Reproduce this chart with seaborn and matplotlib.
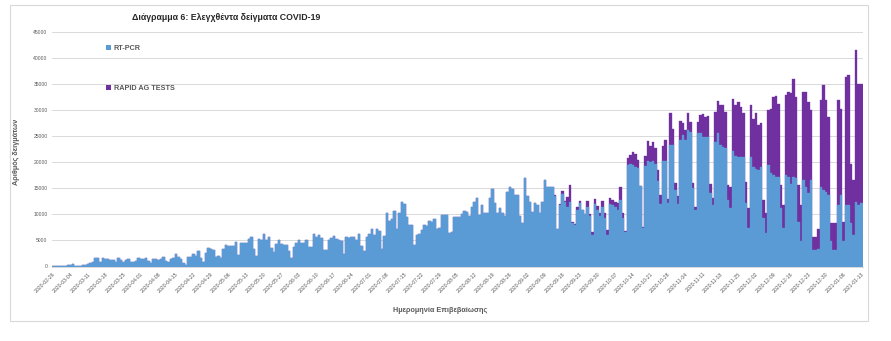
import numpy as np
import pandas as pd
import matplotlib
matplotlib.use("Agg")
import matplotlib.pyplot as plt
import seaborn as sns
from matplotlib.patches import Rectangle, Patch

# ---------------- data ----------------
start_date = "2020-02-26"
end_date = "2021-01-13"

rt_pcr = [
    # 2020-02-26 ..
    100, 120, 150, 80, 90, 150, 200,
    250, 450, 150, 120, 100, 200, 250,
    450, 640, 950, 1600, 1600, 770, 1600,
    1400, 1400, 1280, 1280, 830, 1600, 1280,
    770, 1280, 1400, 950, 770, 1150, 1600,
    1470, 1400, 1600, 1080, 640, 1400, 1400,
    1280, 1400, 1900, 1080, 830, 1470, 1600,
    2400, 1900, 1400, 640, 320, 1800, 1800,
    2350, 2100, 2950, 1600, 950, 2500, 3500,
    3300, 3200, 1800, 2000, 1700, 3400, 4150,
    4000, 4000, 4000, 4650, 2200, 4600, 4450,
    4600, 5200, 5600, 3300, 2000, 5200, 5100,
    6250, 5000, 5600, 3500, 2700, 4300, 5100,
    4300, 4150, 4150, 2900, 1700, 3700, 4450,
    5000, 4600, 4600, 5000, 3700, 3700, 6250,
    5750, 5950, 5500, 3200, 3200, 5100, 5550,
    5900, 5200, 5000, 4900, 2450, 5600, 5400,
    5600, 5600, 5100, 6250, 3900, 2900, 5750,
    6250, 7150, 6050, 7150, 6900, 3300, 5900,
    10300, 8800, 9050, 10700, 7150, 10200, 12450,
    11900, 9450, 8000, 8000, 4150, 6050, 6250,
    7000, 8000, 7800, 8750, 8600, 9050, 7150,
    7350, 9900, 9900, 9900, 6500, 6700, 9550,
    9450, 9450, 10100, 10700, 10500, 9700, 11500,
    12300, 13100, 9900, 11800, 10300, 10300, 13100,
    14800, 12100, 10300, 11150, 10300, 9700, 14350,
    15300, 14800, 13700, 13700, 9700, 8400, 16900,
    13500, 12450, 10500, 12250, 11800, 10200, 12450,
    16600, 15300, 15300, 15300, 13500, 7150, 11800,
    14000, 12450, 11500, 12450, 8300, 8000, 10850,
    12100, 10850, 10100, 11500, 9700, 6100, 12050,
    10900, 9700, 11500, 9400, 5950, 12050, 11850,
    11500, 10750, 12800, 9300, 6700, 19500, 19700,
    19500, 19100, 18900, 15400, 7400, 19300, 20200,
    20000, 20200, 19700, 16500, 12050, 20200, 20200,
    12150, 23400, 23400, 14700, 12050, 24200, 25300,
    24300, 26100, 25900, 15000, 10750, 25700, 25700,
    24900, 24900, 24900, 14150, 11800, 23900, 25650,
    23300, 23000, 22650, 12750, 11150, 22150, 21200,
    21050, 21050, 21050, 12100, 7350, 21050, 19000,
    18800, 18500, 19100, 9250, 6400, 19450, 18000,
    17550, 17200, 17200, 11150, 7350, 17550, 17200,
    15800, 17200, 16900, 8600, 4800, 16600, 15300,
    14050, 16600, 3200, 3200, 3300, 15300, 14700,
    14350, 13700, 4800, 3200, 3200, 11800, 13700,
    4800, 11800, 11800, 8400, 6050, 12450, 11800,
    12100,
]

rapid_ag = [0] * 200 + [
    200, 0, 150, 450, 200, 1900, 3200,
    150, 150, 640, 500, 0, 0, 1100,
    400, 550, 900, 640, 640, 1100, 960,
    1100, 1100, 960, 960, 1400, 2430, 960,
    130, 1300, 1700, 2400, 2400, 1500, 130,
    130, 1900, 3850, 3200, 3600, 3000, 2000,
    1700, 2900, 4150, 800, 6100, 2900, 1300,
    1400, 3650, 2200, 1900, 3450, 1900, 960,
    640, 2100, 3400, 4300, 3700, 4000, 1650,
    1300, 5800, 6050, 7600, 8050, 7050, 2850,
    4150, 10050, 9700, 10550, 9550, 8450, 4200,
    3800, 9850, 9400, 10700, 8600, 8450, 3500,
    3950, 10550, 12300, 15000, 15450, 14050, 4450,
    4450, 15300, 16300, 17500, 18850, 15650, 7000,
    7000, 16900, 18200, 17550, 13400, 2550, 2550,
    3850, 16600, 20100, 17550, 14900, 3600, 5100,
    5100, 20100, 16600, 3800, 24550, 24900, 11250,
    10550, 29150, 23300, 23000,
]

series_names = ["RT-PCR", "RAPID AG TESTS"]
title_text = "Διάγραμμα 6: Ελεγχθέντα δείγματα COVID-19"
xlabel_text = "Ημερομηνία Επιβεβαίωσης"
ylabel_text = "Αριθμός δειγμάτων"
y_ticks = [0, 5000, 10000, 15000, 20000, 25000, 30000, 35000, 40000, 45000]

# ---------------- build frame ----------------
dates = pd.date_range(start_date, end_date, freq="D")
n = len(dates)
pcr = np.array(rt_pcr[:n], dtype=float)
rag = np.array(rapid_ag[:n], dtype=float)
df = pd.DataFrame({
    "date": dates.strftime("%Y-%m-%d"),
    "pcr": pcr,
    "total": pcr + rag,
})

BLUE = "#5B9BD5"
PURPLE = "#7030A0"
GREY = "#595959"

sns.set_theme(style="white")
plt.rcParams["font.family"] = ["Liberation Sans", "DejaVu Sans"]

fig = plt.figure(figsize=(8.91, 3.41), dpi=100)
W, H = 891, 341

# outer chart border
fig.patches.append(Rectangle((10 / W, 1 - 321 / H), (868 - 10) / W, (321 - 5) / H,
                             transform=fig.transFigure, fill=False,
                             edgecolor="#D9D9D9", linewidth=0.8))

left_px, right_px = 51.75, 862.5
top_px, bottom_px = 32.0, 266.5
ax = fig.add_axes([left_px / W, 1 - bottom_px / H,
                   (right_px - left_px) / W, (bottom_px - top_px) / H])

sns.barplot(data=df, x="date", y="total", color=PURPLE, width=1.0,
            saturation=1, ax=ax, linewidth=0.25, edgecolor=PURPLE, errorbar=None)
sns.barplot(data=df, x="date", y="pcr", color=BLUE, width=1.0,
            saturation=1, ax=ax, linewidth=0.25, edgecolor=BLUE, errorbar=None)

ax.set_ylim(0, 45000)
ax.set_xlim(-0.5, n - 0.5)
ax.set_yticks(y_ticks)
ax.set_yticklabels([str(v) for v in y_ticks], fontsize=3.6, color=GREY)
ax.yaxis.grid(True, color="#D9D9D9", linewidth=0.7)
ax.set_axisbelow(True)

tick_pos = list(range(0, n, 7))
ax.set_xticks(tick_pos)
ax.set_xticklabels([df["date"].iloc[i] for i in tick_pos], rotation=45,
                   ha="right", rotation_mode="anchor", fontsize=3.7, color=GREY)
ax.tick_params(axis="x", length=2, width=0.5, color="#D9D9D9", pad=1.5)
ax.tick_params(axis="y", length=0, pad=3)

for s in ["top", "right", "left"]:
    ax.spines[s].set_visible(False)
ax.spines["bottom"].set_color("#D9D9D9")
ax.spines["bottom"].set_linewidth(0.7)

ax.set_xlabel("")
ax.set_ylabel("")

fig.text(226 / W, 1 - 17 / H, title_text, ha="center", va="center",
         fontsize=6.3, fontweight="bold", color="#262626")
fig.text(440 / W, 1 - 310 / H, xlabel_text, ha="center", va="center",
         fontsize=5.2, fontweight="bold", color=GREY)
fig.text(17 / W, 1 - 152 / H, ylabel_text, ha="center", va="center",
         rotation=90, fontsize=5.2, fontweight="bold", color=GREY)

handles = [Patch(facecolor=BLUE, edgecolor="none"),
           Patch(facecolor=PURPLE, edgecolor="none")]
leg = fig.legend(handles, series_names, loc="upper left",
                 bbox_to_anchor=(103 / W, 1 - 42 / H), frameon=False,
                 fontsize=5.2, handlelength=0.7, handleheight=0.7,
                 handletextpad=0.4, labelspacing=4.6, borderaxespad=0)
for t in leg.get_texts():
    t.set_fontweight("bold")
    t.set_color(GREY)

fig.savefig("out.png", dpi=100, facecolor="white")
